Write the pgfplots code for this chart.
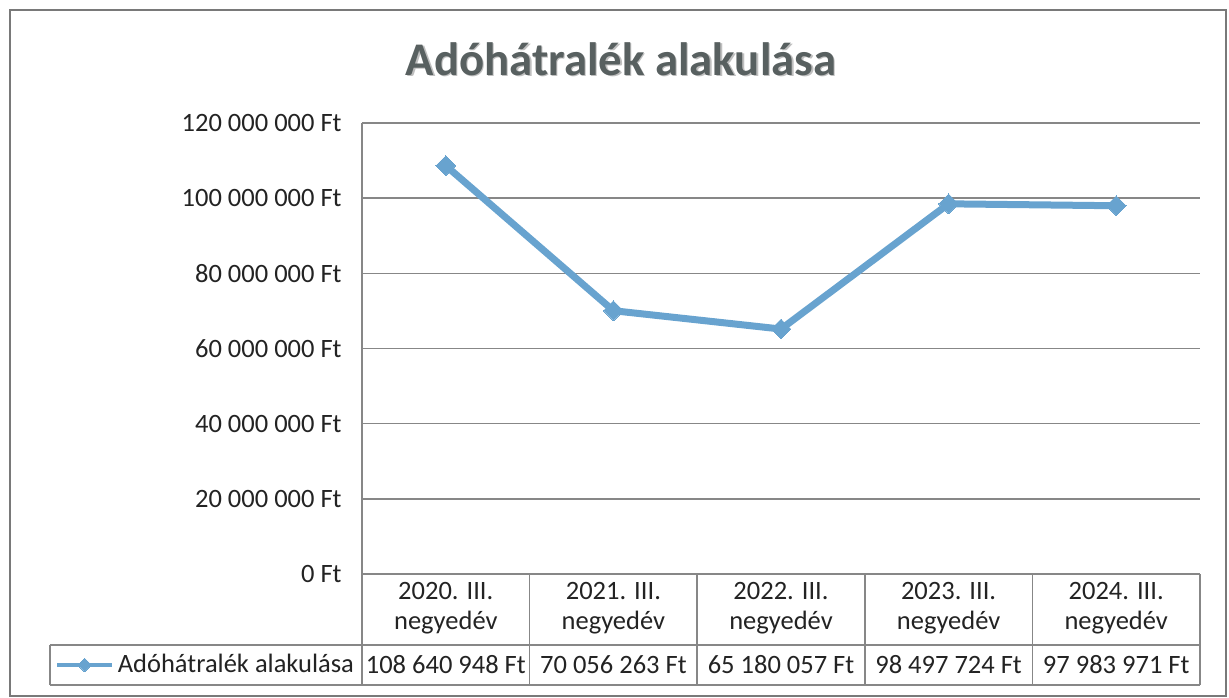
\documentclass[border=0pt]{standalone}
\usepackage{fontspec}
\setmainfont{Carlito}
\usepackage{pgfplots}
\pgfplotsset{compat=1.18}
\definecolor{serie}{RGB}{104,163,207}
\definecolor{racs}{RGB}{135,135,135}
\definecolor{szoveg}{RGB}{35,35,35}
\definecolor{cim}{RGB}{88,96,96}
\newcommand{\cimke}{\fontsize{13.25}{15}\selectfont}

\begin{document}
\begin{tikzpicture}
% page = 1229 x 697 px, 1 px = 0.5pt
\useasboundingbox (0pt,0pt) rectangle (614.5pt,-348.5pt);
\begin{axis}[
  at={(181pt,-287pt)}, anchor=south west,
  scale only axis, width=419pt, height=225.5pt,
  xmin=-0.5, xmax=4.5, ymin=0, ymax=120000000,
  ytick={0,20000000,40000000,60000000,80000000,100000000,120000000},
  yticklabels={0 Ft,20 000 000 Ft,40 000 000 Ft,60 000 000 Ft,80 000 000 Ft,100 000 000 Ft,120 000 000 Ft},
  scaled y ticks=false,
  xtick={0,1,2,3,4},
  xticklabels={{2020. III.\\negyedév},{2021. III.\\negyedév},{2022. III.\\negyedév},{2023. III.\\negyedév},{2024. III.\\negyedév}},
  tick style={draw=none},
  axis line style={draw=none},
  ymajorgrids, grid style={racs, line width=0.75pt},
  tick label style={font=\cimke, text=szoveg},
  yticklabel style={anchor=east, inner sep=0pt, xshift=-10pt},
  xticklabel style={align=center, anchor=center, inner sep=0pt, yshift=-17pt},
  clip=false,
  legend style={at={(-0.3663,-0.2018)}, anchor=west, draw=none, fill=none,
    inner sep=0pt, font=\cimke, text=szoveg},
  legend image code/.code={\draw[line width=1.7pt, mark size=2.4pt, mark repeat=2, mark phase=2]
    plot coordinates {(0pt,0pt)(13.75pt,0pt)(27.5pt,0pt)};},
]
\addplot[serie, line width=3.5pt, line join=round, mark=square*, mark size=3.5pt,
  mark options={rotate=45, line width=0pt}]
  coordinates {(0,108640948) (1,70056263) (2,65180057) (3,98497724) (4,97983971)};
\addlegendentry{Adóhátralék alakulása}
\end{axis}
\begin{scope}[x=0.5pt, y=-0.5pt]
  % outer frame
  \draw[racs!90!black, line width=0.6pt] (10,10) rectangle (1226,696);
  % title
  \node[font=\fontsize{23.4}{28}\selectfont\bfseries, text=black!25, anchor=base] at (622.5,76.5) {Adóhátralék alakulása};
  \node[font=\fontsize{23.4}{28}\selectfont\bfseries, text=cim, anchor=base] at (621,75) {Adóhátralék alakulása};
  % data table
  \draw[racs, line width=0.75pt] (362,123) -- (362,685);
  \draw[racs, line width=0.75pt] (50,645) -- (1200,645) (50,685) -- (1200,685) (50,645) -- (50,685);
  \foreach \x in {529.6,697.2,864.8,1032.4,1200} \draw[racs, line width=0.75pt] (\x,574) -- (\x,685);
  \node[font=\cimke, text=szoveg] at (445.8,665) {108 640 948 Ft};
  \node[font=\cimke, text=szoveg] at (613.4,665) {70 056 263 Ft};
  \node[font=\cimke, text=szoveg] at (781.0,665) {65 180 057 Ft};
  \node[font=\cimke, text=szoveg] at (948.6,665) {98 497 724 Ft};
  \node[font=\cimke, text=szoveg] at (1116.2,665) {97 983 971 Ft};
\end{scope}
\end{tikzpicture}
\end{document}
